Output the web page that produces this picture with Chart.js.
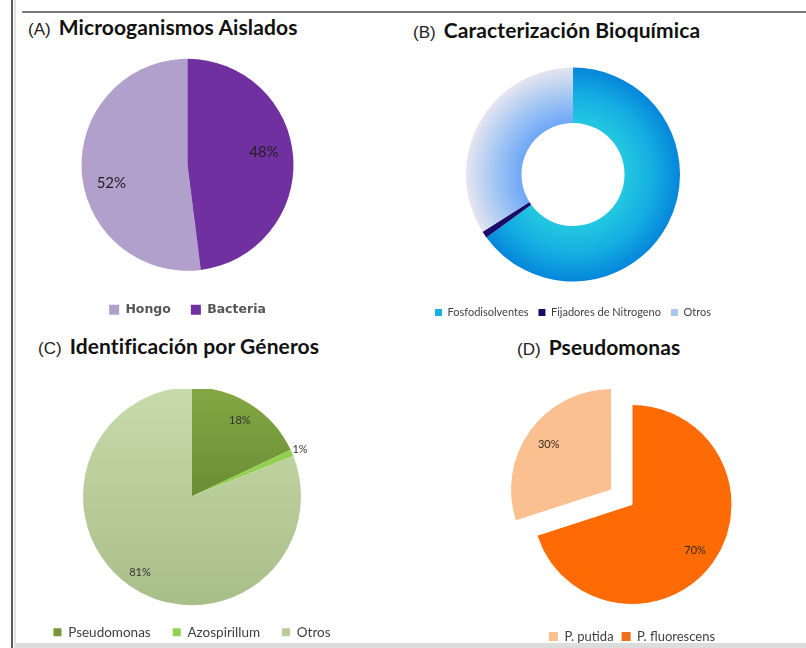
<!DOCTYPE html>
<html>
<head>
<meta charset="utf-8">
<script src="https://cdn.jsdelivr.net/npm/chart.js@4.4.1/dist/chart.umd.min.js"></script>
<style>
  html, body { margin: 0; padding: 0; background: #fff; }
  body { width: 806px; height: 648px; position: relative; overflow: hidden; font-family: Lato, "Open Sans", sans-serif; }
  canvas { position: absolute; }
  .titulo { position: absolute; white-space: nowrap; color: #111; }
  .titulo .letra { font-family: "Liberation Sans", Arial, sans-serif; font-size: 17px; font-weight: normal; color: #222; margin-right: 4px; }
  .titulo b { font-family: Lato, sans-serif; font-size: 21px; font-weight: bold; letter-spacing: 0.1px; }
  .linea { position: absolute; }
</style>
</head>
<body>
<div class="linea" style="left:11px;top:0;width:2px;height:648px;background:#5a5a5a"></div>
<div class="linea" style="left:14px;top:0;width:2px;height:648px;background:#e2e2e2"></div>
<div class="linea" style="left:22px;top:11px;width:784px;height:2px;background:#7a7a7a"></div>
<div class="linea" style="left:16px;top:643px;width:790px;height:5px;background:#dcdcdc"></div>

<div class="titulo" style="left:28px;top:14px"><span class="letra">(A)</span> <b>Microoganismos Aislados</b></div>
<div class="titulo" style="left:413px;top:17px"><span class="letra">(B)</span> <b>Caracterización Bioquímica</b></div>
<div class="titulo" style="left:38px;top:333px"><span class="letra">(C)</span> <b>Identificación por Géneros</b></div>
<div class="titulo" style="left:517px;top:334px"><span class="letra">(D)</span> <b>Pseudomonas</b></div>

<canvas id="graficoA" width="295" height="280" style="left:40px;top:45.5px"></canvas>
<canvas id="graficoB" width="300" height="276" style="left:423px;top:52px"></canvas>
<canvas id="graficoC" width="360" height="260" style="left:12px;top:389px"></canvas>
<canvas id="graficoD" width="300" height="266" style="left:482px;top:387px"></canvas>

<script>
// (A) Microorganismos aislados
const aisladosEtiquetas = ["Hongo", "Bacteria"];
const aisladosValores = [52, 48];

// (B) Caracterizacion bioquimica
const bioquimicaEtiquetas = ["Fosfodisolventes", "Fijadores de Nitrogeno", "Otros"];
const bioquimicaValores = [65, 1, 34];

// (C) Identificacion por generos
const generosEtiquetas = ["Pseudomonas", "Azospirillum", "Otros"];
const generosValores = [18, 1, 81];

// (D) Pseudomonas
const pseudomonasEtiquetas = ["P. putida", "P. fluorescens"];
const pseudomonasValores = [30, 70];

function suma(arr) {
  return arr.reduce((a, b) => a + b, 0);
}

// porcentajes escritos sobre cada sector
const etiquetasPorcentaje = {
  id: "etiquetasPorcentaje",
  afterDatasetsDraw(chart, args, opts) {
    const meta = chart.getDatasetMeta(0);
    const valores = chart.data.datasets[0].data;
    const total = suma(valores);
    const ctx = chart.ctx;
    ctx.save();
    ctx.font = opts.font;
    ctx.fillStyle = opts.color;
    ctx.textAlign = "center";
    ctx.textBaseline = "middle";
    meta.data.forEach((arc, i) => {
      const medio = (arc.startAngle + arc.endAngle) / 2 + (opts.giros ? opts.giros[i] : 0);
      const desplaza = (arc.options.offset || 0) / 4;
      const r = arc.outerRadius * opts.radios[i] + desplaza;
      const x = arc.x + Math.cos(medio) * r;
      const y = arc.y + Math.sin(medio) * r;
      ctx.fillText(Math.round((valores[i] / total) * 100) + "%", x, y);
    });
    ctx.restore();
  },
};

function centro(chart) {
  const a = chart.chartArea;
  return { x: (a.left + a.right) / 2, y: (a.top + a.bottom) / 2 };
}

// relleno por sector: cada entrada es un color o una lista de paradas
function rellenos(estilos, tipo, r) {
  return function (context) {
    const chart = context.chart;
    const e = estilos[context.dataIndex];
    if (typeof e === "string") return e;
    if (!chart.chartArea) return e[0][1];
    const c = centro(chart);
    let g;
    if (tipo === "radial") {
      g = chart.ctx.createRadialGradient(c.x, c.y, 0, c.x, c.y, r);
    } else {
      g = chart.ctx.createLinearGradient(0, c.y - r, 0, c.y + r);
    }
    e.forEach((p) => g.addColorStop(p[0], p[1]));
    return g;
  };
}

function leyenda(fuente, tam, peso, color, caja, relleno, cajas) {
  return {
    position: "bottom",
    labels: {
      boxWidth: caja,
      boxHeight: caja,
      padding: relleno,
      color: color,
      font: { family: fuente, size: tam, weight: peso },
      generateLabels(chart) {
        const items = Chart.controllers.doughnut.overrides.plugins.legend.labels.generateLabels(chart);
        items.forEach((it, i) => {
          it.fillStyle = cajas[i];
          it.strokeStyle = cajas[i];
          it.lineWidth = 0;
        });
        return items;
      },
    },
  };
}

Chart.defaults.animation = false;
Chart.defaults.responsive = false;
Chart.defaults.devicePixelRatio = 1;
Chart.defaults.plugins.tooltip.enabled = false;

// (A)
new Chart(document.getElementById("graficoA"), {
  type: "pie",
  data: {
    labels: aisladosEtiquetas,
    datasets: [
      {
        data: aisladosValores,
        backgroundColor: ["#b1a0cb", "#7030a0"],
        borderWidth: 0,
        radius: 106,
      },
    ],
  },
  options: {
    rotation: (360 * aisladosValores[1]) / suma(aisladosValores),
    plugins: {
      legend: leyenda("DejaVu Sans", 12.5, "bold", "#555", 10, 20, ["#b1a0cb", "#7030a0"]),
      etiquetasPorcentaje: { font: "15px Lato", color: "#222", radios: [0.74, 0.73], giros: [-0.18, -0.1] },
    },
  },
  plugins: [etiquetasPorcentaje],
});

// (B)
const bioquimicaEstilos = [
  [[0, "#22c6e0"], [0.5, "#22c6e0"], [0.74, "#14aee2"], [1, "#0584da"]],
  "#1c0a6a",
  [[0, "#72aaf7"], [0.5, "#72aaf7"], [0.74, "#a6c8f3"], [1, "#e8e6f0"]],
];
new Chart(document.getElementById("graficoB"), {
  type: "doughnut",
  data: {
    labels: bioquimicaEtiquetas,
    datasets: [
      {
        data: bioquimicaValores,
        backgroundColor: rellenos(bioquimicaEstilos, "radial", 108),
        borderWidth: 0,
        radius: 107,
        cutout: 59,
      },
    ],
  },
  options: {
    plugins: {
      legend: leyenda("Lato", 11, "normal", "#404040", 7, 10, ["#17b0e0", "#1c0a6a", "#a6c8f3"]),
    },
  },
});

// (C)
const generosEstilos = [
  [[0, "#84a844"], [0.5, "#6a8d34"]],
  "#92d050",
  [[0, "#c8dbab"], [1, "#a8be89"]],
];
new Chart(document.getElementById("graficoC"), {
  type: "pie",
  data: {
    labels: generosEtiquetas,
    datasets: [
      {
        data: generosValores,
        backgroundColor: rellenos(generosEstilos, "lineal", 110),
        borderWidth: 0,
        radius: 109,
      },
    ],
  },
  options: {
    plugins: {
      legend: leyenda("Lato", 13.5, "normal", "#404040", 8, 22, ["#76963a", "#92d050", "#b9cd98"]),
      etiquetasPorcentaje: { font: "11px Lato", color: "#333", radios: [0.82, 1.08, 0.85] },
    },
  },
  plugins: [etiquetasPorcentaje],
});

// (D)
new Chart(document.getElementById("graficoD"), {
  type: "pie",
  data: {
    labels: pseudomonasEtiquetas,
    datasets: [
      {
        data: pseudomonasValores,
        backgroundColor: ["#fac090", "#fe6a04"],
        borderColor: "#ffffff",
        borderWidth: 1,
        offset: [100, 0],
        radius: 100,
      },
    ],
  },
  options: {
    rotation: (360 * pseudomonasValores[1]) / suma(pseudomonasValores),
    plugins: {
      legend: leyenda("Lato", 13, "normal", "#404040", 9, 8, ["#fac090", "#f0701a"]),
      etiquetasPorcentaje: { font: "11px Lato", color: "#3a2a1a", radios: [0.78, 0.78] },
    },
  },
  plugins: [etiquetasPorcentaje],
});
</script>
</body>
</html>
